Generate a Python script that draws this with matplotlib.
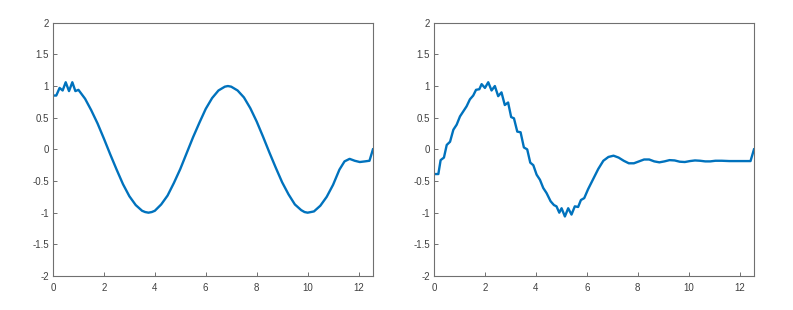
import numpy as np
import matplotlib
matplotlib.use('Agg')
import matplotlib.pyplot as plt

# left panel: values
left_x = [0.0, 0.13, 0.26, 0.38, 0.50, 0.63, 0.76, 0.88, 1.00, 1.13, 1.26,
          1.50, 1.75, 2.00, 2.25, 2.50, 2.75, 3.00, 3.25, 3.50, 3.62, 3.75,
          3.88, 4.00, 4.25, 4.50, 4.75, 5.00, 5.25, 5.50, 5.75, 6.00, 6.25,
          6.50, 6.75, 6.87, 7.00, 7.25, 7.50, 7.75, 8.00, 8.25, 8.50, 8.75,
          9.00, 9.25, 9.50, 9.75, 9.88, 10.00, 10.13, 10.25, 10.50, 10.75, 11.00, 11.25,
          11.45, 11.65, 11.85, 12.05, 12.25, 12.43, 12.566]
left_y = [0.85, 0.85, 0.97, 0.93, 1.06, 0.92, 1.06, 0.92, 0.94, 0.87, 0.80,
          0.62, 0.41, 0.17, -0.08, -0.32, -0.55, -0.74, -0.88, -0.97, -0.99, -1.00,
          -0.99, -0.97, -0.87, -0.73, -0.53, -0.31, -0.06, 0.19, 0.42, 0.64, 0.81,
          0.93, 0.99, 1.00, 0.99, 0.93, 0.82, 0.65, 0.44, 0.20, -0.05, -0.29,
          -0.52, -0.71, -0.87, -0.96, -0.99, -1.00, -0.99, -0.98, -0.89, -0.75, -0.56, -0.32,
          -0.19, -0.15, -0.18, -0.20, -0.19, -0.18, 0.0]

# right panel
right_x = [0.0, 0.17, 0.26, 0.39, 0.50, 0.63, 0.76, 0.89, 1.02, 1.15, 1.28,
           1.41, 1.54, 1.65, 1.78, 1.87, 2.00, 2.13, 2.26, 2.39, 2.52,
           2.65, 2.78, 2.91, 3.03, 3.14, 3.27, 3.40, 3.53, 3.66, 3.78,
           3.90, 4.03, 4.16, 4.29, 4.42, 4.58, 4.71, 4.81, 4.92, 5.01,
           5.14, 5.27, 5.40, 5.53, 5.66, 5.77, 5.90, 6.05, 6.25, 6.45,
           6.65, 6.85, 7.05, 7.25, 7.45, 7.65, 7.85, 8.05, 8.25, 8.45,
           8.65, 8.85, 9.05, 9.25, 9.45, 9.65, 9.85, 10.05, 10.25, 10.45,
           10.65, 10.85, 11.05, 11.30, 11.60, 11.90, 12.20, 12.43, 12.566]
right_y = [-0.39, -0.39, -0.17, -0.13, 0.07, 0.12, 0.31, 0.39, 0.52, 0.60, 0.68,
           0.79, 0.85, 0.94, 0.95, 1.03, 0.97, 1.06, 0.93, 1.00, 0.84,
           0.90, 0.70, 0.74, 0.51, 0.49, 0.28, 0.27, 0.03, 0.00, -0.21,
           -0.25, -0.40, -0.48, -0.61, -0.69, -0.82, -0.88, -0.90, -1.00, -0.93,
           -1.06, -0.93, -1.03, -0.90, -0.91, -0.80, -0.77, -0.63, -0.47, -0.31,
           -0.18, -0.12, -0.10, -0.13, -0.18, -0.22, -0.22, -0.19, -0.16, -0.16,
           -0.19, -0.205, -0.19, -0.17, -0.175, -0.195, -0.20, -0.185, -0.175, -0.18,
           -0.19, -0.19, -0.18, -0.18, -0.185, -0.185, -0.185, -0.185, 0.0]

x_ticks = [0, 2, 4, 6, 8, 10, 12]
y_ticks = [-2, -1.5, -1, -0.5, 0, 0.5, 1, 1.5, 2]
y_labels = ['-2', '-1.5', '-1', '-0.5', '0', '0.5', '1', '1.5', '2']

plt.rcParams['font.family'] = ['Liberation Sans', 'DejaVu Sans']

fig = plt.figure(figsize=(7.93, 3.10), dpi=100)
ax1 = fig.add_axes([0.0668, 0.1097, 0.4035, 0.817])
ax2 = fig.add_axes([0.5473, 0.1097, 0.4035, 0.817])

for ax, xs, ys in [(ax1, left_x, left_y), (ax2, right_x, right_y)]:
    ax.plot(xs, ys, color='#0072BD', linewidth=1.7)
    ax.set_xlim(0, 4 * np.pi)
    ax.set_ylim(-2, 2)
    ax.set_xticks(x_ticks)
    ax.set_yticks(y_ticks)
    ax.set_yticklabels(y_labels)
    ax.tick_params(direction='in', length=3, width=0.7, color='#707070',
                   labelcolor='#404040', labelsize=7, pad=3)
    ax.tick_params(axis='x', pad=5)
    for s in ax.spines.values():
        s.set_color('#707070')
        s.set_linewidth(0.8)

fig.savefig('out.png', dpi=100)
